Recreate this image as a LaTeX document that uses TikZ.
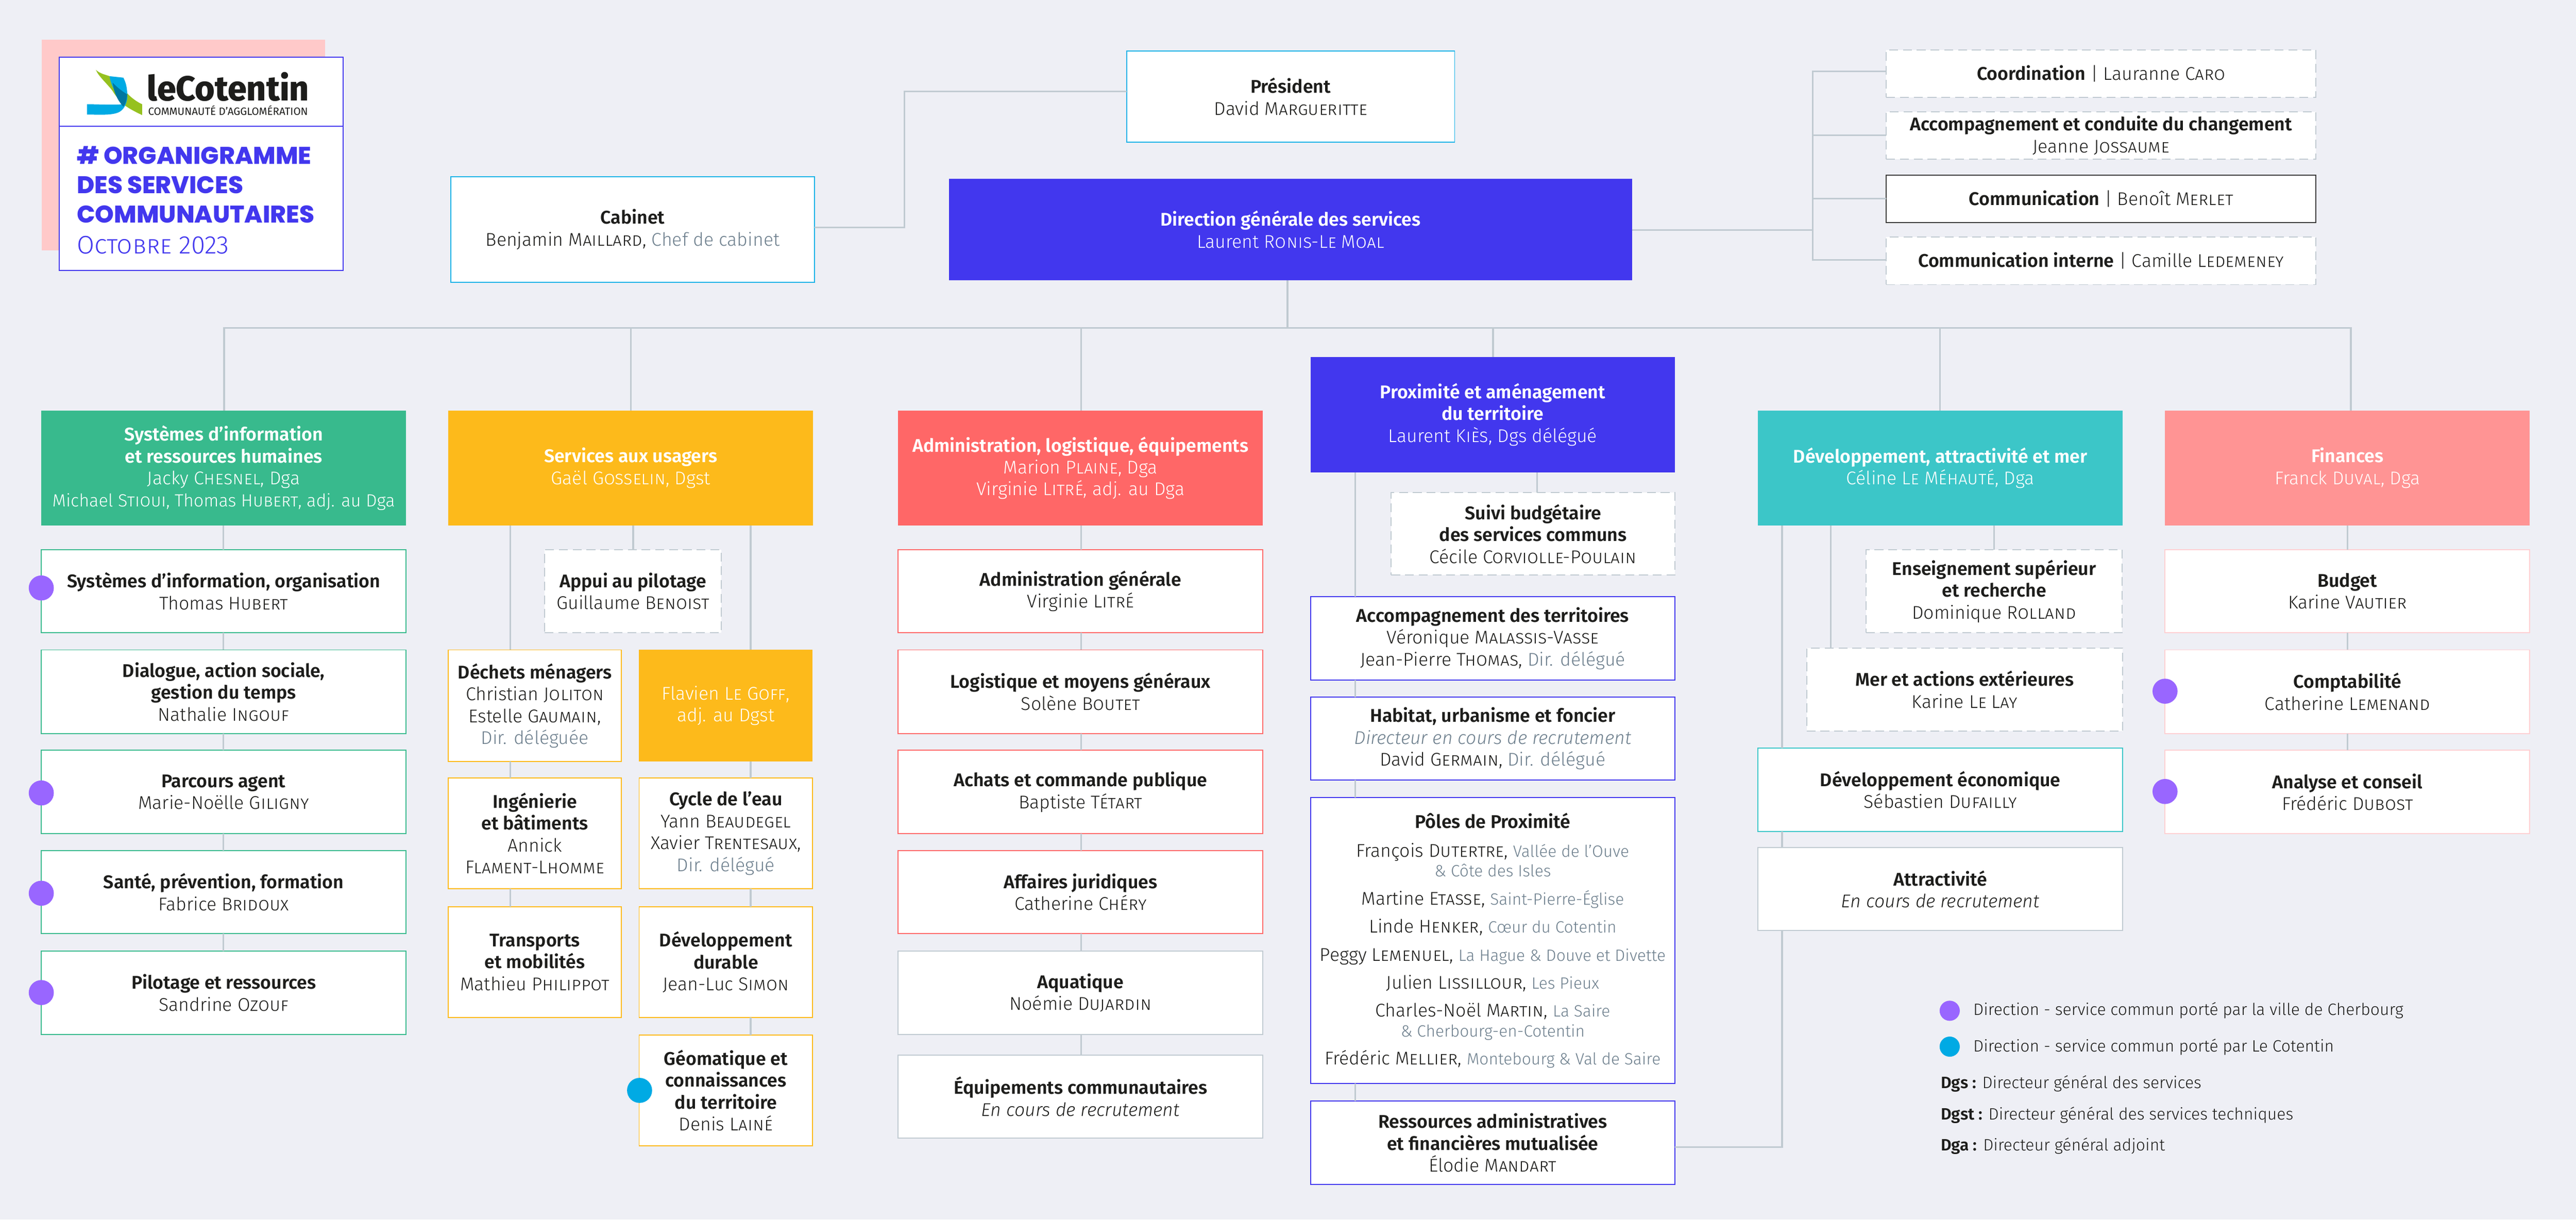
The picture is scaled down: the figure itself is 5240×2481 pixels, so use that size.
\documentclass[tikz,border=0pt]{standalone}
\usepackage{fontspec}
\usepackage{graphicx}
\setmainfont{Fira Sans Light}[BoldFont={Fira Sans SemiBold},ItalicFont={Fira Sans Light Italic},BoldItalicFont={Fira Sans SemiBold Italic}]
\newfontfamily\poppinsb{Poppins ExtraBold}
\newfontfamily\firaxb{Fira Sans}
\newfontfamily\firaeb{Fira Sans ExtraBold}
\definecolor{bgc}{HTML}{EEEFF5}
\definecolor{indigo}{HTML}{4237EE}
\definecolor{vert}{HTML}{38BA8D}
\definecolor{jaune}{HTML}{FDBA1B}
\definecolor{rouge}{HTML}{FF6767}
\definecolor{teal}{HTML}{3CC6C8}
\definecolor{rosef}{HTML}{FF9494}
\definecolor{rosep}{HTML}{FFCFD2}
\definecolor{rosef2}{HTML}{FFC9C9}
\definecolor{violet}{HTML}{9966FF}
\definecolor{cyanb}{HTML}{00AAE4}
\definecolor{gris}{HTML}{C0CAD1}
\definecolor{grist}{HTML}{6D7F8D}
\definecolor{encre}{HTML}{1D1D1B}
\definecolor{noirc}{HTML}{3A3A3A}
\definecolor{logov}{HTML}{96C11F}
\newcommand{\gr}[1]{{\color{grist}#1}}
\newcommand{\sm}[1]{{\fontsize{16.6}{20}\selectfont\color{grist}#1}}
\newcommand{\bx}[7]{\node[#2,anchor=north west,minimum width={(#5-#3)*0.5pt},minimum height={(#6-#4)*0.5pt}] (#1) at (#3,#4) {#7};}
\newcommand{\vl}[3]{\draw[ln] (#1.south -| #3,0) -- (#2.north -| #3,0);}
\tikzset{
 base/.style={inner sep=0pt,outer sep=0pt,align=center,text=encre,font=\fontsize{18.7}{22.25}\selectfont,line width=1pt,fill=white},
 cg/.style={base,draw=vert}, cy/.style={base,draw=jaune}, cr/.style={base,draw=rouge},
 ci/.style={base,draw=indigo}, ct/.style={base,draw=teal}, cp/.style={base,draw=rosep},
 cn/.style={base,draw=gris}, cc/.style={base,draw=cyanb!90!white}, cd/.style={base,draw=noirc},
 dsh/.style={base,draw=gris,dash pattern=on 9pt off 5pt},
 hd/.style={base,text=white,fill=#1,draw=none},
 ln/.style={draw=gris,line width=1.75pt},
 dot/.style={circle,inner sep=0pt,outer sep=0pt,minimum size=25.5pt,fill=#1},
 ldot/.style={circle,inner sep=0pt,outer sep=0pt,minimum size=20.5pt,fill=#1},
 leg/.style={inner sep=0pt,outer sep=0pt,anchor=west,text=encre,font=\fontsize{16.7}{20}\selectfont},
 ttl/.style={inner sep=0pt,anchor=west,text=indigo,font=\poppinsb\fontsize{24.5}{30}\selectfont},
}
\begin{document}
\begin{tikzpicture}[x=0.5pt,y=-0.5pt]
\fill[bgc] (0,0) rectangle (5240,2481);
\useasboundingbox (0,0) rectangle (5240,2481);
% cartouche
\fill[rosef2] (85,81) rectangle (661,509);
\bx{logob}{base,draw=indigo}{120.5}{116}{697.5}{257}{}
\bx{titb}{base,draw=indigo}{120.5}{257}{697.5}{550}{}
\fill[logov] (195,142) .. controls (203,150) and (215,152) .. (223,155) .. controls (232,170) and (250,180) .. (259,190) .. controls (268,200) and (280,208) .. (289,212) -- (289,234) .. controls (270,225) and (258,218) .. (251,212) .. controls (240,200) and (235,195) .. (229,185) .. controls (218,170) and (200,155) .. (195,142) -- cycle;
\fill[cyanb] (223,155) -- (251,158) .. controls (257,170) and (259,180) .. (259,199) .. controls (257,215) and (250,225) .. (240,229) .. controls (225,235) and (200,233) .. (177,233) -- (177,212) .. controls (195,212) and (235,214) .. (248,212) .. controls (240,195) and (225,175) .. (223,155) -- cycle;
\fill[cyanb!70!black] (229,168) .. controls (240,180) and (255,190) .. (259,192) .. controls (258,205) and (255,212) .. (251,217) .. controls (240,205) and (232,190) .. (229,168) -- cycle;
\node[inner sep=0pt,anchor=west,text=encre] (lg1) at (299,177) {\resizebox{164.5pt}{29pt}{\firaeb leCotentin}};
\node[inner sep=0pt,anchor=west,text=encre] (lg2) at (301,225) {\resizebox{162.5pt}{!}{\firaxb COMMUNAUTÉ D’AGGLOMÉRATION}};
\node[ttl] (t1) at (156,316) {\# ORGANIGRAMME};
\node[ttl] (t2) at (156,376) {DES SERVICES};
\node[ttl] (t3) at (156,436) {COMMUNAUTAIRES};
\node[inner sep=0pt,anchor=west,text=indigo,font=\fontsize{25.8}{30}\selectfont] (t4) at (156,498) {\textsc{Octobre} 2023};
% haut
\bx{pres}{cc}{2292}{104}{2959}{289}{\textbf{Président}\\David \textsc{Margueritte}}
\bx{cab}{cc}{917}{359}{1657}{574}{\textbf{Cabinet}\\Benjamin \textsc{Maillard}, \gr{Chef de cabinet}}
\bx{dgs}{hd=indigo}{1930}{364}{3320}{570}{\textbf{Direction générale des services}\\Laurent \textsc{Ronis-Le Moal}}
\bx{coord}{dsh}{3837}{102}{4711}{198}{\textbf{Coordination} | Lauranne \textsc{Caro}}
\bx{accomp}{dsh}{3837}{227}{4711}{324}{\textbf{Accompagnement et conduite du changement}\\Jeanne \textsc{Jossaume}}
\bx{comm}{cd}{3837}{356}{4711}{453}{\textbf{Communication} | Benoît \textsc{Merlet}}
\bx{commi}{dsh}{3837}{482}{4711}{579}{\textbf{Communication interne} | Camille \textsc{Ledemeney}}
% colonne 1
\bx{sih}{hd=vert}{84}{835}{826}{1069}{\textbf{Systèmes d’information}\\\textbf{et ressources humaines}\\Jacky \textsc{Chesnel}, Dga\\{\fontsize{17.9}{22.25}\selectfont Michael \textsc{Stioui}, Thomas \textsc{Hubert}, adj. au Dga}}
\bx{si1}{cg}{84}{1118}{826}{1287}{\textbf{Systèmes d’information, organisation}\\Thomas \textsc{Hubert}}
\bx{si2}{cg}{84}{1322}{826}{1492}{\textbf{Dialogue, action sociale,}\\\textbf{gestion du temps}\\Nathalie \textsc{Ingouf}}
\bx{si3}{cg}{84}{1526}{826}{1696}{\textbf{Parcours agent}\\Marie-Noëlle \textsc{Giligny}}
\bx{si4}{cg}{84}{1730}{826}{1899}{\textbf{Santé, prévention, formation}\\Fabrice \textsc{Bridoux}}
\bx{si5}{cg}{84}{1935}{826}{2104}{\textbf{Pilotage et ressources}\\Sandrine \textsc{Ozouf}}
% colonne 2
\bx{srv}{hd=jaune}{912}{835}{1654}{1069}{\textbf{Services aux usagers}\\Gaël \textsc{Gosselin}, Dgst}
\bx{app}{dsh}{1108}{1118}{1467}{1287}{\textbf{Appui au pilotage}\\Guillaume \textsc{Benoist}}
\bx{dec}{cy}{912}{1322}{1264}{1549}{\textbf{Déchets ménagers}\\Christian \textsc{Joliton}\\Estelle \textsc{Gaumain},\\\gr{Dir. déléguée}}
\bx{fla}{hd=jaune}{1300}{1322}{1653}{1549}{Flavien \textsc{Le Goff},\\adj. au Dgst}
\bx{ing}{cy}{912}{1582}{1264}{1808}{\textbf{Ingénierie}\\\textbf{et bâtiments}\\Annick\\\textsc{Flament-Lhomme}}
\bx{cyc}{cy}{1300}{1582}{1653}{1808}{\textbf{Cycle de l’eau}\\Yann \textsc{Beaudegel}\\Xavier \textsc{Trentesaux},\\\gr{Dir. délégué}}
\bx{tra}{cy}{912}{1844}{1264}{2070}{\textbf{Transports}\\\textbf{et mobilités}\\Mathieu \textsc{Philippot}}
\bx{dev}{cy}{1300}{1844}{1653}{2070}{\textbf{Développement}\\\textbf{durable}\\Jean-Luc \textsc{Simon}}
\bx{geo}{cy}{1300}{2105}{1653}{2331}{\textbf{Géomatique et}\\\textbf{connaissances}\\\textbf{du territoire}\\Denis \textsc{Lainé}}
% colonne 3
\bx{adm}{hd=rouge}{1827}{835}{2569}{1069}{\textbf{Administration, logistique, équipements}\\Marion \textsc{Plaine}, Dga\\Virginie \textsc{Litré}, adj. au Dga}
\bx{ad1}{cr}{1827}{1118}{2569}{1287}{\textbf{Administration générale}\\Virginie \textsc{Litré}}
\bx{ad2}{cr}{1827}{1322}{2569}{1492}{\textbf{Logistique et moyens généraux}\\Solène \textsc{Boutet}}
\bx{ad3}{cr}{1827}{1526}{2569}{1696}{\textbf{Achats et commande publique}\\Baptiste \textsc{Tétart}}
\bx{ad4}{cr}{1827}{1730}{2569}{1899}{\textbf{Affaires juridiques}\\Catherine \textsc{Chéry}}
\bx{ad5}{cn}{1827}{1935}{2569}{2104}{\textbf{Aquatique}\\Noémie \textsc{Dujardin}}
\bx{ad6}{cn}{1827}{2146}{2569}{2315}{\textbf{Équipements communautaires}\\\textit{En cours de recrutement}}
% colonne 4
\bx{prx}{hd=indigo}{2666}{726}{3407}{961}{\textbf{Proximité et aménagement}\\\textbf{du territoire}\\Laurent \textsc{Kiès}, Dgs délégué}
\bx{sui}{dsh}{2830}{1002}{3407}{1170}{\textbf{Suivi budgétaire}\\\textbf{des services communs}\\Cécile \textsc{Corviolle-Poulain}}
\bx{act}{ci}{2666}{1214}{3407}{1383}{\textbf{Accompagnement des territoires}\\Véronique \textsc{Malassis-Vasse}\\Jean-Pierre \textsc{Thomas}, \gr{Dir. délégué}}
\bx{hab}{ci}{2666}{1418}{3407}{1587}{\textbf{Habitat, urbanisme et foncier}\\\gr{\textit{Directeur en cours de recrutement}}\\David \textsc{Germain}, \gr{Dir. délégué}}
\bx{pol}{ci}{2666}{1622}{3407}{2204}{\textbf{Pôles de Proximité}\\[7.25pt]François \textsc{Dutertre}, \sm{Vallée de l’Ouve}\\[-2.25pt]\sm{\& Côte des Isles}\\[6.25pt]Martine \textsc{Etasse}, \sm{Saint-Pierre-Église}\\[6.25pt]Linde \textsc{Henker}, \sm{Cœur du Cotentin}\\[6.25pt]Peggy \textsc{Lemenuel}, \sm{La Hague \& Douve et Divette}\\[6.25pt]Julien \textsc{Lissillour}, \sm{Les Pieux}\\[6.25pt]Charles-Noël \textsc{Martin}, \sm{La Saire}\\[-2.25pt]\sm{\& Cherbourg-en-Cotentin}\\[6.25pt]Frédéric \textsc{Mellier}, \sm{Montebourg \& Val de Saire}}
\bx{res}{ci}{2666}{2240}{3407}{2409}{\textbf{Ressources administratives}\\\textbf{et financières mutualisée}\\Élodie \textsc{Mandart}}
% colonne 5
\bx{dvh}{hd=teal}{3576}{835}{4318}{1069}{\textbf{Développement, attractivité et mer}\\Céline \textsc{Le Méhauté}, Dga}
\bx{ens}{dsh}{3796}{1118}{4317}{1287}{\textbf{Enseignement supérieur}\\\textbf{et recherche}\\Dominique \textsc{Rolland}}
\bx{mer}{dsh}{3675}{1318}{4318}{1487}{\textbf{Mer et actions extérieures}\\Karine \textsc{Le Lay}}
\bx{eco}{ct}{3576}{1522}{4318}{1691}{\textbf{Développement économique}\\Sébastien \textsc{Dufailly}}
\bx{atr}{cn}{3576}{1724}{4318}{1893}{\textbf{Attractivité}\\\textit{En cours de recrutement}}
% colonne 6
\bx{fin}{hd=rosef}{4404}{835}{5146}{1069}{\textbf{Finances}\\Franck \textsc{Duval}, Dga}
\bx{bud}{cp}{4404}{1118}{5146}{1287}{\textbf{Budget}\\Karine \textsc{Vautier}}
\bx{cpt}{cp}{4404}{1322}{5146}{1492}{\textbf{Comptabilité}\\Catherine \textsc{Lemenand}}
\bx{ana}{cp}{4404}{1526}{5146}{1696}{\textbf{Analyse et conseil}\\Frédéric \textsc{Dubost}}
% connecteurs haut
\coordinate (bus) at (2619,667);
\coordinate (kc) at (1840,463);
\coordinate (kr) at (3687,468);
\draw[ln] (pres.west |- 0,186) -| (kc) -- (cab.east |- kc);
\draw[ln] (dgs.east |- kr) -- (kr);
\draw[ln] (coord.west |- 0,145) -| (commi.west -| kr) |- (commi.west |- 0,529);
\draw[ln] (kr |- 0,275) -- (accomp.west |- 0,275);
\draw[ln] (kr |- 0,404) -- (comm.west |- 0,404);
\draw[ln] (dgs.south -| bus) -- (bus);
\draw[ln] (sih.north -| 456,0) |- (bus) -| (fin.north -| 4782,0);
\draw[ln] (bus -| 1283,0) -- (srv.north -| 1283,0);
\draw[ln] (bus -| 2199,0) -- (adm.north -| 2199,0);
\draw[ln] (bus -| 3037,0) -- (prx.north -| 3037,0);
\draw[ln] (bus -| 3946,0) -- (dvh.north -| 3946,0);
% connecteurs colonnes
\vl{sih}{si1}{454}\vl{si1}{si2}{454}\vl{si2}{si3}{454}\vl{si3}{si4}{454}\vl{si4}{si5}{454}
\vl{srv}{app}{1288}\vl{srv}{dec}{1038}\vl{srv}{fla}{1527}
\vl{dec}{ing}{1038}\vl{ing}{tra}{1038}\vl{fla}{cyc}{1527}\vl{cyc}{dev}{1527}\vl{dev}{geo}{1527}
\vl{adm}{ad1}{2199}\vl{ad1}{ad2}{2199}\vl{ad2}{ad3}{2199}\vl{ad3}{ad4}{2199}\vl{ad4}{ad5}{2199}\vl{ad5}{ad6}{2199}
\vl{prx}{sui}{3127}\vl{prx}{act}{2757}\vl{act}{hab}{2757}\vl{hab}{pol}{2757}\vl{pol}{res}{2757}
\vl{dvh}{ens}{4056}\vl{dvh}{mer}{3724}\vl{dvh}{eco}{3625}\vl{eco}{atr}{3625}
\draw[ln] (atr.south -| 3625,0) |- (res.east |- 0,2333);
\vl{fin}{bud}{4775}\vl{bud}{cpt}{4775}\vl{cpt}{ana}{4775}
% pastilles
\node[dot=violet] (p1) at (84,1196) {};
\node[dot=violet] (p2) at (84,1613) {};
\node[dot=violet] (p3) at (84,1817) {};
\node[dot=violet] (p4) at (84,2019) {};
\node[dot=cyanb] (p5) at (1301,2218) {};
\node[dot=violet] (p6) at (4404,1406) {};
\node[dot=violet] (p7) at (4404,1610) {};
% legende
\node[ldot=violet] (l1) at (3966,2056) {};
\node[ldot=cyanb] (l2) at (3966,2129) {};
\node[leg] (lt1) at (4014,2055) {Direction - service commun porté par la ville de Cherbourg};
\node[leg] (lt2) at (4014,2130) {Direction - service commun porté par Le Cotentin};
\node[leg] (lt3) at (3948,2204) {\textbf{Dgs :} Directeur général des services};
\node[leg] (lt4) at (3948,2268) {\textbf{Dgst :} Directeur général des services techniques};
\node[leg] (lt5) at (3948,2331) {\textbf{Dga :} Directeur général adjoint};
\end{tikzpicture}
\end{document}
